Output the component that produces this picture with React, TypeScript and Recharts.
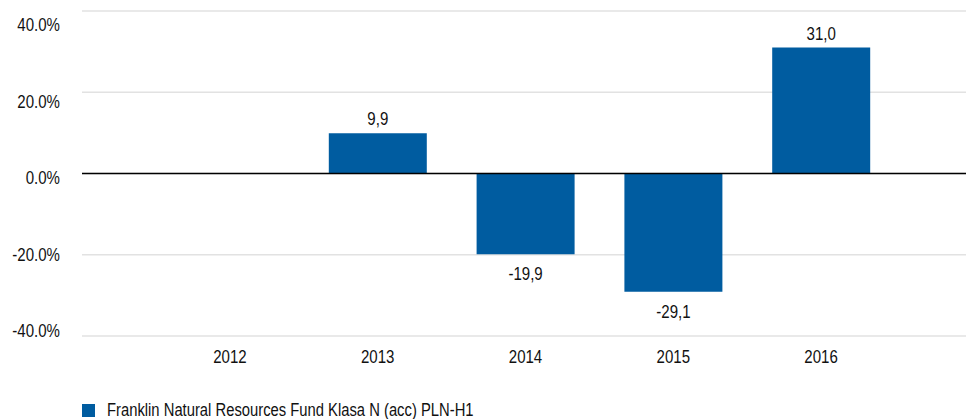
import {
  Bar,
  BarChart,
  CartesianGrid,
  LabelList,
  Legend,
  ReferenceLine,
  XAxis,
  YAxis,
} from 'recharts'

const YEARS = ['2012', '2013', '2014', '2015', '2016']
const RETURNS: (number | null)[] = [null, 9.9, -19.9, -29.1, 31.0]
const Y_TICKS = [-40, -20, 0, 20, 40]
const SERIES_NAME = 'Franklin Natural Resources Fund Klasa N (acc) PLN-H1'

const FONT = '"Liberation Sans", Arial, sans-serif'
const FS = 17.5
const SQUEEZE = 0.86 // original type is a condensed face
const TEXT = '#111'
const BLUE = '#005ca0'

const data = YEARS.map((year, i) => ({ year, value: RETURNS[i] }))

function Txt({ x, y, anchor, children }: any) {
  return (
    <text
      transform={`translate(${x},${y}) scale(${SQUEEZE},1)`}
      dy="0.35em"
      textAnchor={anchor}
      fill={TEXT}
      fontSize={FS}
      fontFamily={FONT}
    >
      {children}
    </text>
  )
}

function YTick(props: any) {
  const { y, payload } = props
  // original labels sit on a slightly tighter spacing than the grid lines
  const ty = 178 + (y - 173.5) * 0.943
  return <Txt x={60} y={ty} anchor="end">{payload.value.toFixed(1) + '%'}</Txt>
}

function XTick(props: any) {
  const { x, y, payload } = props
  return <Txt x={x} y={y + 21} anchor="middle">{payload.value}</Txt>
}

function ValueLabel(props: any) {
  const { x, y, width, height, value } = props
  if (value == null) return null
  const top = Math.min(y, y + height)
  const bottom = Math.max(y, y + height)
  const ty = value >= 0 ? top - 14 : bottom + 20
  return (
    <Txt x={x + width / 2} y={ty} anchor="middle">
      {Number(value).toFixed(1).replace('.', ',')}
    </Txt>
  )
}

function LegendContent() {
  return (
    <div style={{ display: 'flex', alignItems: 'center', marginLeft: 82, marginTop: 15, fontFamily: FONT, fontSize: FS, color: TEXT }}>
      <span style={{ display: 'inline-block', flex: 'none', width: 13, height: 13, background: BLUE, marginRight: 12 }} />
      <span style={{ lineHeight: '19px', whiteSpace: 'nowrap', transform: 'scaleX(0.845)', transformOrigin: 'left center' }}>
        {SERIES_NAME}
      </span>
    </div>
  )
}

export default function App() {
  return (
    <div style={{ position: 'absolute', left: 0, top: 0, background: '#fff' }}>
      <BarChart width={966} height={419} data={data} margin={{ top: 11, right: 0, left: 0, bottom: 0 }}>
        <CartesianGrid vertical={false} stroke="#e2e2e2" strokeWidth={1.5} />
        <XAxis
          dataKey="year"
          axisLine={false}
          tickLine={false}
          tickSize={0}
          tickMargin={0}
          height={50}
          padding={{ left: 74, right: 71 }}
          tick={<XTick />}
        />
        <YAxis
          width={82}
          domain={[-40, 40]}
          ticks={Y_TICKS}
          axisLine={false}
          tickLine={false}
          tick={<YTick />}
        />
        <Legend verticalAlign="bottom" height={33} content={<LegendContent />} />
        <Bar dataKey="value" name={SERIES_NAME} fill={BLUE} barSize={98} isAnimationActive={false}>
          <LabelList dataKey="value" content={<ValueLabel />} />
        </Bar>
        <ReferenceLine y={0} stroke="#000" strokeWidth={1.5} />
      </BarChart>
    </div>
  )
}
